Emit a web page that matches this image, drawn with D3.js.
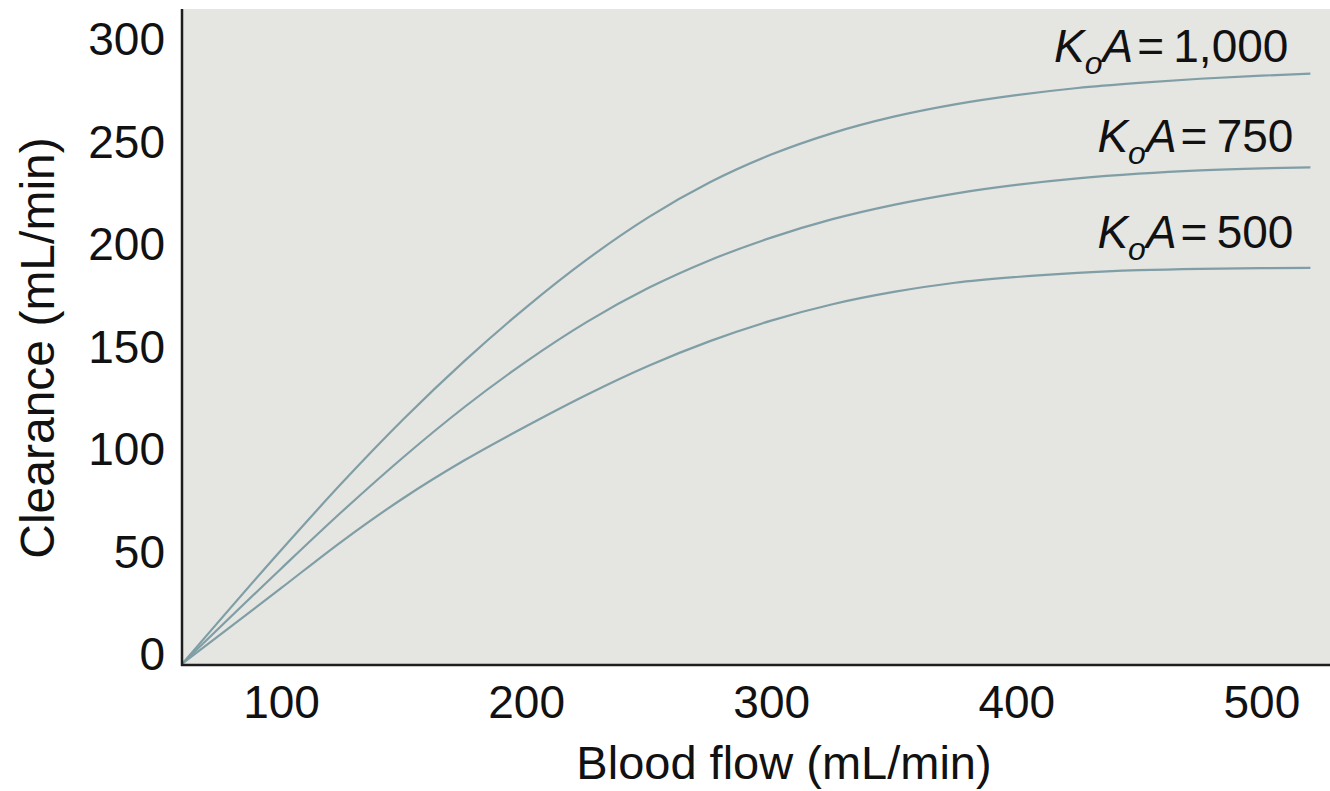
<!DOCTYPE html>
<head>
    <title> Clearance vs blood flow </title>
</head>
<style>
    body {
        margin: 0;
        background: #fff;
    }
    text {
        font-family: "Liberation Sans", Arial, sans-serif;
        fill: #111;
    }
    .curve {
        fill: none;
        stroke: #7f9ea5;
        stroke-width: 2.2px;
    }
    .axis-line {
        stroke: #1e1e1e;
        stroke-width: 2.5px;
    }
</style>
<body>
<script src="https://d3js.org/d3.v7.min.js"></script>
<script>
// values
var bloodFlow = [60, 100, 125, 150, 175, 200, 225, 250, 275, 300, 325, 350, 375, 400, 425, 450, 475, 500, 520];
var koa1000 = [0, 55, 88, 119, 147.5, 173.5, 197, 217.5, 234.5, 248, 258.5, 266.5, 272.5, 277, 280.5, 283, 285, 286.5, 287.5];
var koa750  = [0, 46, 74, 100.5, 125, 147, 166.5, 183, 196.5, 207.5, 216.5, 223.5, 229, 233.2, 236.4, 238.7, 240.3, 241.3, 241.8];
var koa500  = [0, 36.5, 59.5, 80.5, 99, 115.5, 131, 145, 157, 167, 175, 181, 185.5, 188.3, 190.3, 191.6, 192.3, 192.6, 192.7];
var seriesLabels = ["1,000", "750", "500"];
var xTicks = [100, 200, 300, 400, 500];
var yTicks = [0, 50, 100, 150, 200, 250, 300];

var width = 1330,
    height = 791;

var svg = d3.select("body")
            .append("svg")
            .attr("width", width)
            .attr("height", height);

var x = d3.scaleLinear()
            .domain([60, 528])
            .range([183, 1330]);

var y = d3.scaleLinear()
            .domain([0, 300])
            .range([663, 48]);

// grey plot panel
svg.append("rect")
    .attr("x", x(60))
    .attr("y", 9)
    .attr("width", x(528) - x(60))
    .attr("height", 664 - 9)
    .attr("fill", "#e5e5e1");

var series = [koa1000, koa750, koa500];

var line = d3.line()
            .x(function(d, i){ return x(bloodFlow[i]); })
            .y(function(d){ return y(d); })
            .curve(d3.curveMonotoneX);

svg.selectAll(".curve")
    .data(series)
    .enter()
    .append("path")
    .attr("class", "curve")
    .attr("d", line);

// KoA labels above each curve end
var labelOffsets = [-12, -15, -20];
var labels = svg.selectAll(".koa-label")
    .data(series)
    .enter()
    .append("text")
    .attr("class", "koa-label")
    .attr("text-anchor", "end")
    .attr("x", function(d, i){ return x(bloodFlow[bloodFlow.length - 1]) - (i == 0 ? 22 : 17); })
    .attr("y", function(d, i){ return y(d[d.length - 1]) + labelOffsets[i]; })
    .style("font-size", "46px");

labels.append("tspan").style("font-style", "italic").text("K");
labels.append("tspan").style("font-style", "italic").style("font-size", "32px").attr("dy", 12).text("o");
labels.append("tspan").style("font-style", "italic").attr("dy", -12).text("A");
labels.append("tspan").attr("dx", 4).text(function(d, i){ return "=\u2009" + seriesLabels[i]; });

// axes: labels only, no tick marks
var xAxis = svg.append("g")
    .attr("transform", "translate(0,665)")
    .call(d3.axisBottom(x).tickValues(xTicks).tickSize(0).tickPadding(20));

var yAxis = svg.append("g")
    .attr("transform", "translate(182,-8)")
    .call(d3.axisLeft(y).tickValues(yTicks).tickSize(0).tickPadding(17));

xAxis.select(".domain").remove();
yAxis.select(".domain").remove();
svg.selectAll(".tick text")
    .style("font-size", "46px")
    .attr("fill", "#111")
    .style("font-family", "'Liberation Sans', Arial, sans-serif");

svg.append("line")
    .attr("class", "axis-line")
    .attr("x1", 182).attr("x2", 182)
    .attr("y1", 9).attr("y2", 666);

svg.append("line")
    .attr("class", "axis-line")
    .attr("x1", 181).attr("x2", 1330)
    .attr("y1", 665).attr("y2", 665);

svg.append("text")
    .attr("x", 784)
    .attr("y", 779)
    .attr("text-anchor", "middle")
    .style("font-size", "47px")
    .text("Blood flow (mL/min)");

svg.append("text")
    .attr("transform", "translate(54,348) rotate(-90)")
    .attr("text-anchor", "middle")
    .style("font-size", "48px")
    .text("Clearance (mL/min)");
</script>
</body>
